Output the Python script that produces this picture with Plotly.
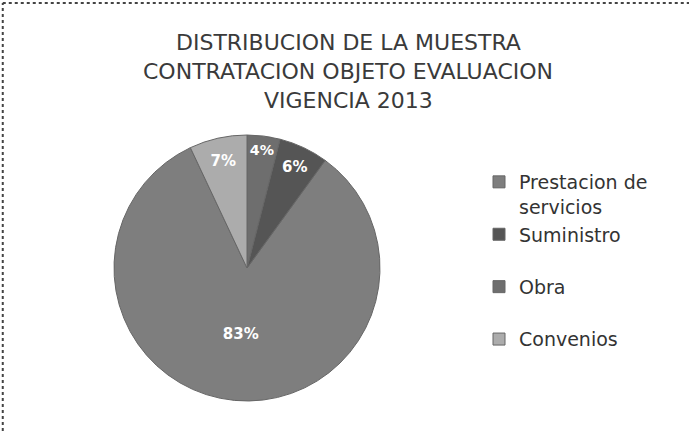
import plotly.graph_objects as go

categories = ["Prestacion de servicios", "Suministro", "Obra", "Convenios"]
legend_labels = ["Prestacion de<br>servicios", "Suministro<br> ", "Obra<br> ", "Convenios"]
values = [83, 6, 4, 7]
text_labels = ["83%", "6%", "4%", "7%"]
colors = ["#7e7e7e", "#555555", "#6e6e6e", "#acacac"]
title_lines = ["DISTRIBUCION DE LA MUESTRA", "CONTRATACION OBJETO EVALUACION", "VIGENCIA 2013"]

W, H = 689, 431
cx, cy, r = 247, 268, 133

fig = go.Figure(go.Pie(
    labels=legend_labels,
    values=values,
    text=text_labels,
    texttemplate="<b>%{text}</b>",
    sort=False,
    direction="counterclockwise",
    rotation=36,
    marker=dict(colors=colors, line=dict(color="#666666", width=1)),
    textfont=dict(color="white", size=15, family="DejaVu Sans"),
    textposition="inside",
    insidetextorientation="horizontal",
    hoverinfo="label+percent",
    domain=dict(x=[(cx - r) / W, (cx + r) / W], y=[(H - cy - r) / H, (H - cy + r) / H]),
))

title_y = [42, 71, 100]
annotations = [
    dict(text=t, x=348 / W, y=1 - yy / H, xref="paper", yref="paper",
         xanchor="center", yanchor="middle", showarrow=False,
         font=dict(size=22, color="#3a3a3a", family="DejaVu Sans"))
    for t, yy in zip(title_lines, title_y)
]

fig.update_layout(
    width=W, height=H,
    margin=dict(l=0, r=0, t=0, b=0),
    paper_bgcolor="#ffffff",
    plot_bgcolor="#ffffff",
    showlegend=True,
    legend=dict(
        x=479 / W, y=1 - 163 / H, xanchor="left", yanchor="top",
        font=dict(size=19, color="#333333", family="DejaVu Sans"),
        valign="top", bgcolor="rgba(0,0,0,0)", itemwidth=30,
    ),
    annotations=annotations,
    shapes=[
        dict(type="line", xref="paper", yref="paper", x0=0.004, y0=0.993, x1=1, y1=0.993,
             line=dict(color="#444444", width=2, dash="dot")),
        dict(type="line", xref="paper", yref="paper", x0=0.004, y0=0, x1=0.004, y1=0.993,
             line=dict(color="#444444", width=2, dash="dot")),
    ],
)

fig.write_html("out.html")
